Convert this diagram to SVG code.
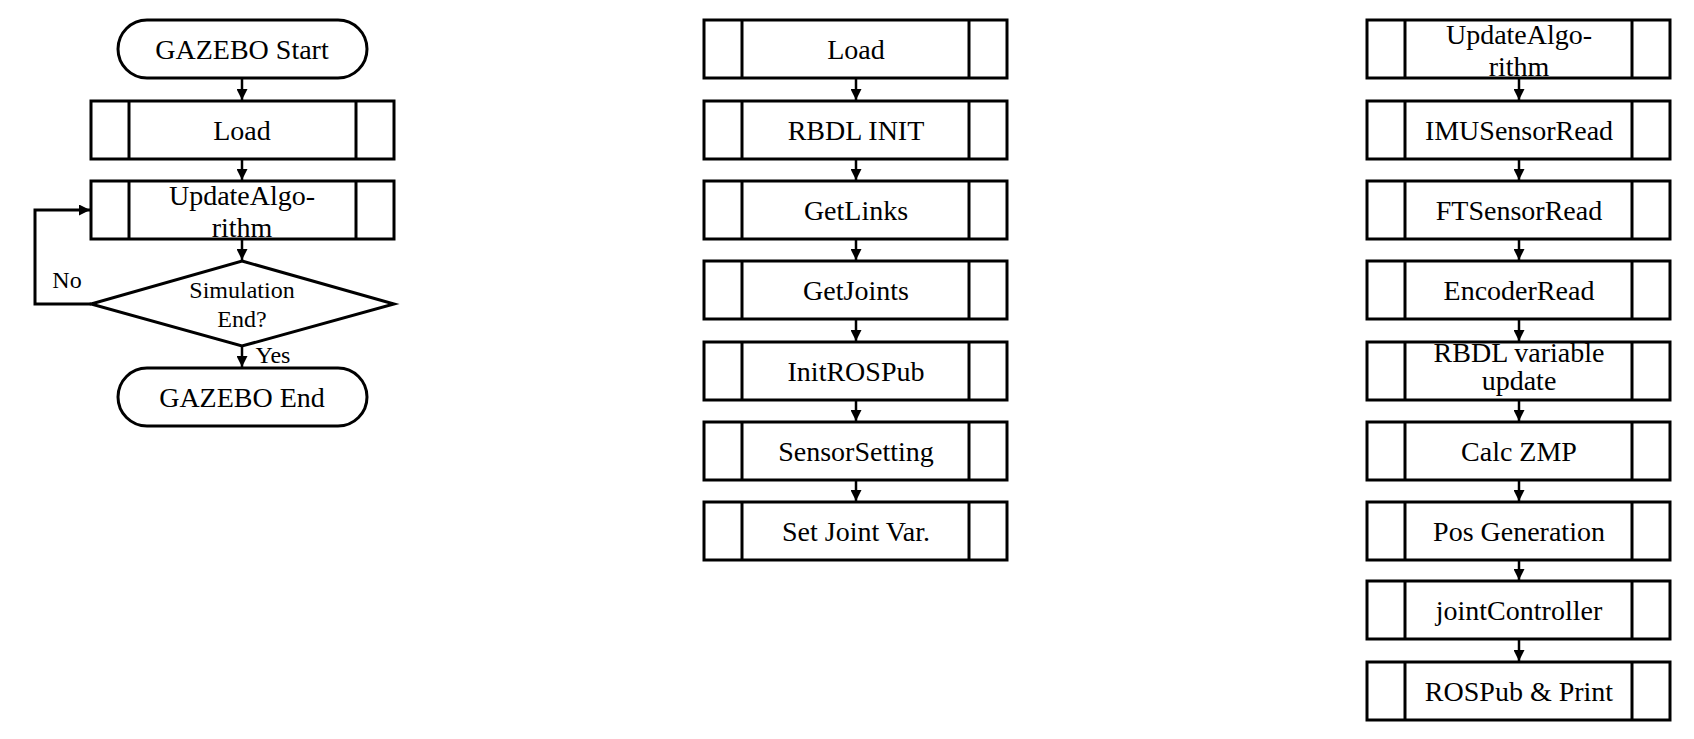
<svg xmlns="http://www.w3.org/2000/svg" width="1694" height="739" viewBox="0 0 1694 739">
<style>
.s{fill:#fff;stroke:#000;stroke-width:3}
.d{fill:none;stroke:#000;stroke-width:3}
.t{font-family:'Liberation Serif','Times New Roman',serif;font-size:28px;text-anchor:middle;fill:#000}
.m{font-family:'Liberation Serif','Times New Roman',serif;font-size:24px;text-anchor:middle;fill:#000}
</style>
<defs>
<marker id="b" viewBox="0 0 10 10" refX="10" refY="5" markerWidth="11" markerHeight="11" markerUnits="userSpaceOnUse" orient="auto">
<path d="M0,0 L10,5 L0,10 z" fill="#000"/>
</marker>
<g id="proc">
<rect class="s" x="0" y="0" width="303" height="58"/>
<line class="d" x1="38" y1="0" x2="38" y2="58"/>
<line class="d" x1="265" y1="0" x2="265" y2="58"/>
</g>
</defs>

<!-- Left column -->
<g id="gz-start"><rect class="s" x="118" y="20" width="249" height="58" rx="29" ry="29"/><text class="t" x="242" y="59">GAZEBO Start</text></g>
<g id="l-load"><use href="#proc" x="91" y="101"/><text class="t" x="242" y="140">Load</text></g>
<g id="l-update"><use href="#proc" x="91" y="181"/><text class="t" x="242" y="205">UpdateAlgo-</text><text class="t" x="242" y="237">rithm</text></g>
<g id="l-decision"><polygon class="s" points="242,261 394,304 242,346 91,304"/><text class="m" x="242" y="298">Simulation</text><text class="m" x="242" y="327">End?</text></g>
<g id="gz-end"><rect class="s" x="118" y="368" width="249" height="58" rx="29" ry="29"/><text class="t" x="242" y="407">GAZEBO End</text></g>

<!-- Middle column -->
<g id="m-load"><use href="#proc" x="704" y="20"/><text class="t" x="856" y="59">Load</text></g>
<g id="m-rbdl"><use href="#proc" x="704" y="101"/><text class="t" x="856" y="140">RBDL INIT</text></g>
<g id="m-links"><use href="#proc" x="704" y="181"/><text class="t" x="856" y="220">GetLinks</text></g>
<g id="m-joints"><use href="#proc" x="704" y="261"/><text class="t" x="856" y="300">GetJoints</text></g>
<g id="m-ros"><use href="#proc" x="704" y="342"/><text class="t" x="856" y="381">InitROSPub</text></g>
<g id="m-sensor"><use href="#proc" x="704" y="422"/><text class="t" x="856" y="461">SensorSetting</text></g>
<g id="m-setjoint"><use href="#proc" x="704" y="502"/><text class="t" x="856" y="541">Set Joint Var.</text></g>

<!-- Right column -->
<g id="r-update"><use href="#proc" x="1367" y="20"/><text class="t" x="1519" y="44">UpdateAlgo-</text><text class="t" x="1519" y="76">rithm</text></g>
<g id="r-imu"><use href="#proc" x="1367" y="101"/><text class="t" x="1519" y="140">IMUSensorRead</text></g>
<g id="r-ft"><use href="#proc" x="1367" y="181"/><text class="t" x="1519" y="220">FTSensorRead</text></g>
<g id="r-enc"><use href="#proc" x="1367" y="261"/><text class="t" x="1519" y="300">EncoderRead</text></g>
<g id="r-rbdl"><use href="#proc" x="1367" y="342"/><text class="t" x="1519" y="362">RBDL variable</text><text class="t" x="1519" y="390">update</text></g>
<g id="r-zmp"><use href="#proc" x="1367" y="422"/><text class="t" x="1519" y="461">Calc ZMP</text></g>
<g id="r-pos"><use href="#proc" x="1367" y="502"/><text class="t" x="1519" y="541">Pos Generation</text></g>
<g id="r-joint"><use href="#proc" x="1367" y="581"/><text class="t" x="1519" y="620">jointController</text></g>
<g id="r-rospub"><use href="#proc" x="1367" y="662"/><text class="t" x="1519" y="701">ROSPub &amp; Print</text></g>

<!-- Connectors -->
<g id="connectors" fill="none" stroke="#000" stroke-width="2.5" marker-end="url(#b)">
<line x1="242" y1="79" x2="242" y2="100"/>
<line x1="242" y1="160" x2="242" y2="180"/>
<line x1="242" y1="240" x2="242" y2="260"/>
<line x1="242" y1="347" x2="242" y2="367"/>
<polyline stroke-width="3" points="91,304 35,304 35,210 90,210"/>
<line x1="856" y1="79" x2="856" y2="100"/>
<line x1="856" y1="160" x2="856" y2="180"/>
<line x1="856" y1="240" x2="856" y2="260"/>
<line x1="856" y1="320" x2="856" y2="341"/>
<line x1="856" y1="401" x2="856" y2="421"/>
<line x1="856" y1="481" x2="856" y2="501"/>
<line x1="1519" y1="79" x2="1519" y2="100"/>
<line x1="1519" y1="160" x2="1519" y2="180"/>
<line x1="1519" y1="240" x2="1519" y2="260"/>
<line x1="1519" y1="320" x2="1519" y2="341"/>
<line x1="1519" y1="401" x2="1519" y2="421"/>
<line x1="1519" y1="481" x2="1519" y2="501"/>
<line x1="1519" y1="561" x2="1519" y2="580"/>
<line x1="1519" y1="640" x2="1519" y2="661"/>
</g>
<text class="m" x="67" y="288">No</text>
<text class="m" x="273" y="363">Yes</text>
</svg>
